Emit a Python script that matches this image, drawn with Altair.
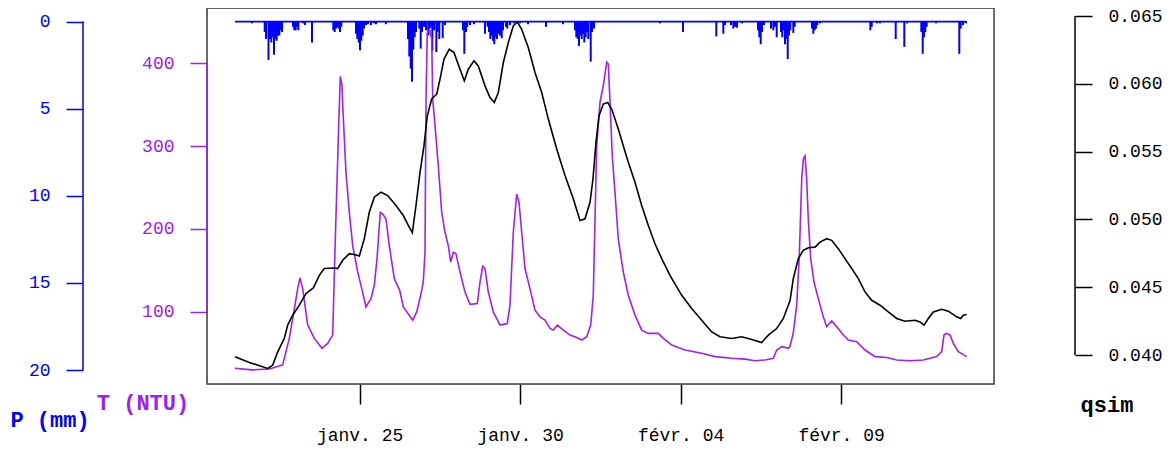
import altair as alt
import pandas as pd

# time axis: days since 20 Jan 00:00
X_TICKS = [5, 10, 15, 20]
X_LABELS = ["janv. 25", "janv. 30", "févr. 04", "févr. 09"]
P_TICKS = [0, 5, 10, 15, 20]
T_TICKS = [100, 200, 300, 400]
Q_TICKS = [0.040, 0.045, 0.050, 0.055, 0.060, 0.065]
AXIS_TITLES = ["P (mm)", "T (NTU)", "qsim"]

# rainfall (hourly, non-zero hours only)
P_DAY = [1.648, 2.044, 2.085, 2.162, 2.209, 2.25, 2.293, 2.333, 2.374, 2.417,
         2.458, 2.498, 2.54, 2.583, 2.925, 2.966, 3.009, 3.05, 3.09, 3.237,
         3.3, 3.517, 4.181, 4.224, 4.265, 4.305, 4.349, 4.389, 4.43, 4.888,
         4.928, 4.972, 5.012, 5.053, 5.097, 5.137, 5.2, 5.26, 5.355, 5.45,
         5.51, 5.82, 6.508, 6.548, 6.592, 6.632, 6.673, 6.717, 6.757, 6.86,
         6.903, 6.944, 7.007, 7.07, 7.14, 7.184, 7.224, 7.265, 7.318, 7.39,
         7.433, 7.483, 7.589, 7.66, 8.221, 8.262, 8.315, 8.355, 8.439, 8.564,
         8.907, 8.99, 9.031, 9.072, 9.115, 9.156, 9.196, 9.24, 9.28, 9.32,
         9.374, 9.427, 9.467, 9.561, 9.601, 9.685, 9.81, 9.997, 10.246, 10.807,
         11.336, 11.71, 11.751, 11.794, 11.835, 11.875, 11.919, 11.959, 12.0, 12.044,
         12.084, 12.125, 12.2, 12.24, 12.302, 14.358, 15.075, 16.112, 16.33, 16.383,
         16.57, 16.642, 16.695, 16.757, 16.913, 17.411, 17.452, 17.495, 17.536, 17.598,
         17.816, 17.888, 17.941, 17.994, 18.128, 18.168, 18.212, 18.252, 18.293, 18.337,
         18.377, 18.417, 18.511, 18.555, 19.093, 19.134, 19.178, 19.218, 19.259, 19.343,
         20.91, 20.953, 21.118, 21.212, 21.701, 21.969, 22.053, 22.499, 22.542, 22.583,
         22.623, 22.667, 22.956, 23.682, 23.726, 23.798, 23.891]
P_MM = [0.1, 0.6, 1.0, 2.2, 1.0, 1.2, 0.9, 1.9, 1.0, 1.1,
        0.8, 0.8, 0.5, 0.6, 0.3, 0.5, 0.5, 0.3, 0.5, 0.1,
        0.2, 1.2, 0.5, 0.6, 0.4, 0.3, 0.4, 0.6, 0.3, 0.7,
        1.0, 1.2, 1.65, 1.1, 0.8, 0.4, 0.2, 0.15, 0.2, 0.1,
        0.15, 0.15, 1.0, 2.0, 2.7, 3.45, 1.6, 0.9, 0.6, 0.4,
        1.55, 0.6, 0.3, 0.5, 0.8, 0.4, 0.3, 1.68, 0.5, 1.75,
        0.6, 1.0, 0.95, 0.2, 0.5, 1.85, 0.6, 0.3, 0.2, 0.15,
        0.7, 0.3, 0.6, 1.0, 0.8, 1.1, 1.3, 0.9, 1.0, 0.7,
        0.8, 0.95, 0.5, 0.3, 0.4, 0.2, 0.1, 0.1, 0.15, 0.3,
        0.15, 0.5, 0.9, 1.0, 1.4, 0.8, 1.0, 0.7, 1.2, 0.9,
        0.6, 1.0, 2.3, 0.6, 0.4, 0.1, 0.6, 0.85, 0.7, 0.2,
        0.2, 0.4, 0.3, 0.35, 0.1, 0.5, 0.9, 1.3, 0.6, 0.2,
        0.4, 0.5, 0.3, 0.9, 0.6, 0.9, 0.5, 1.3, 1.0, 2.15,
        0.8, 0.5, 0.65, 0.3, 0.4, 0.7, 0.5, 0.4, 0.2, 0.1,
        0.5, 0.3, 0.1, 0.1, 1.0, 1.45, 0.1, 0.6, 1.85, 0.9,
        0.6, 0.3, 0.1, 1.85, 0.4, 0.2, 0.1]
P_SPAN = [1.118, 23.913]

# turbidity
T_DAY = [1.118, 1.648, 2.187, 2.604, 2.81, 2.935, 3.072, 3.143, 3.227, 3.383,
         3.589, 3.829, 4.006, 4.162, 4.243, 4.296, 4.349, 4.399, 4.452, 4.474,
         4.576, 4.679, 4.785, 4.941, 5.044, 5.199, 5.355, 5.458, 5.542, 5.645,
         5.72, 5.822, 5.925, 6.081, 6.249, 6.361, 6.654, 6.779, 6.903, 6.984,
         7.037, 7.069, 7.109, 7.193, 7.246, 7.277, 7.349, 7.452, 7.558, 7.66,
         7.763, 7.838, 7.919, 8.003, 8.128, 8.283, 8.439, 8.667, 8.751, 8.835,
         8.907, 9.009, 9.165, 9.374, 9.601, 9.685, 9.788, 9.894, 9.966, 10.05,
         10.153, 10.308, 10.464, 10.62, 10.776, 10.931, 11.034, 11.159, 11.346, 11.554,
         11.763, 11.919, 12.075, 12.2, 12.28, 12.386, 12.458, 12.489, 12.592, 12.698,
         12.748, 12.801, 12.872, 12.956, 13.059, 13.215, 13.371, 13.579, 13.788, 13.994,
         14.305, 14.461, 14.723, 15.137, 15.657, 16.072, 16.592, 17.006, 17.318, 17.629,
         17.888, 17.994, 18.15, 18.355, 18.408, 18.511, 18.617, 18.698, 18.773, 18.822,
         18.875, 18.928, 18.978, 19.053, 19.156, 19.29, 19.445, 19.551, 19.707, 19.863,
         20.069, 20.224, 20.486, 20.745, 21.056, 21.421, 21.732, 22.146, 22.561, 22.978,
         23.134, 23.206, 23.29, 23.393, 23.496, 23.651, 23.913]
T_NTU = [32, 30, 31, 36, 68, 96, 128, 141, 128, 84,
         68, 56, 62, 72, 188, 256, 325, 384, 373, 349,
         268, 220, 180, 148, 132, 106, 116, 132, 164, 220,
         218, 212, 180, 140, 126, 106, 90, 100, 120, 136,
         172, 357, 437, 439, 429, 357, 325, 276, 220, 196,
         180, 160, 172, 170, 148, 124, 109, 110, 136, 155,
         152, 124, 100, 84, 86, 108, 196, 242, 232, 196,
         152, 128, 102, 94, 90, 80, 78, 84, 78, 72,
         69, 66, 70, 84, 120, 300, 337, 353, 373, 401,
         399, 353, 288, 244, 188, 148, 120, 96, 78, 74,
         74, 68, 60, 54, 50, 46, 44, 43, 41, 42,
         44, 54, 58, 56, 58, 75, 108, 168, 260, 284,
         288, 260, 212, 164, 136, 116, 94, 82, 89, 82,
         72, 66, 64, 54, 46, 45, 42, 41, 42, 46,
         52, 72, 74, 72, 62, 52, 46]

# simulated discharge
Q_DAY = [1.118, 1.564, 2.137, 2.293, 2.449, 2.654, 2.76, 2.916, 3.121, 3.33,
         3.558, 3.745, 3.9, 4.212, 4.318, 4.474, 4.679, 4.866, 4.991, 5.146,
         5.302, 5.458, 5.667, 5.875, 6.134, 6.361, 6.517, 6.642, 6.757, 6.882,
         7.006, 7.109, 7.246, 7.402, 7.505, 7.629, 7.794, 7.941, 8.128, 8.262,
         8.386, 8.564, 8.698, 8.907, 9.062, 9.196, 9.321, 9.477, 9.632, 9.788,
         9.913, 10.05, 10.255, 10.464, 10.673, 10.879, 11.14, 11.399, 11.657, 11.866,
         12.022, 12.178, 12.271, 12.364, 12.458, 12.592, 12.729, 12.854, 13.059, 13.215,
         13.371, 13.579, 13.788, 13.994, 14.202, 14.411, 14.67, 15.034, 15.346, 15.657,
         15.969, 16.227, 16.592, 16.903, 17.215, 17.526, 17.732, 17.994, 18.2, 18.355,
         18.408, 18.511, 18.667, 18.822, 18.978, 19.187, 19.343, 19.551, 19.707, 19.913,
         20.121, 20.33, 20.536, 20.745, 20.953, 21.212, 21.47, 21.732, 21.991, 22.302,
         22.458, 22.583, 22.717, 22.872, 23.134, 23.34, 23.601, 23.726, 23.807, 23.913]
Q_SIM = [0.03988, 0.03946, 0.03902, 0.03926, 0.04024, 0.04123, 0.04221, 0.04294, 0.04368, 0.04454,
         0.04495, 0.04588, 0.04638, 0.04642, 0.04638, 0.04699, 0.04748, 0.04740, 0.04730, 0.04858,
         0.05054, 0.05164, 0.05201, 0.05176, 0.05103, 0.05029, 0.04956, 0.04902, 0.05103, 0.05348,
         0.05544, 0.05765, 0.05888, 0.05924, 0.06035, 0.06182, 0.06255, 0.06230, 0.06108, 0.06022,
         0.06108, 0.06169, 0.06132, 0.05985, 0.05899, 0.05863, 0.05936, 0.06157, 0.06304, 0.06426,
         0.06456, 0.06402, 0.06267, 0.06083, 0.05936, 0.05740, 0.05520, 0.05324, 0.05152, 0.04993,
         0.05005, 0.05127, 0.05300, 0.05570, 0.05765, 0.05851, 0.05863, 0.05814, 0.05667, 0.05544,
         0.05421, 0.05274, 0.05103, 0.04956, 0.04821, 0.04711, 0.04588, 0.04441, 0.04343, 0.04257,
         0.04171, 0.04135, 0.04123, 0.04135, 0.04115, 0.04093, 0.04147, 0.04196, 0.04270, 0.04368,
         0.04400, 0.04564, 0.04711, 0.04772, 0.04792, 0.04796, 0.04833, 0.04858, 0.04846, 0.04785,
         0.04711, 0.04638, 0.04564, 0.04466, 0.04404, 0.04368, 0.04318, 0.04270, 0.04250, 0.04257,
         0.04245, 0.04221, 0.04270, 0.04318, 0.04338, 0.04324, 0.04282, 0.04270, 0.04294, 0.04299]

BLUE = "#0000FF"
PURPLE = "#A020F0"
BLACK = "#000000"
FRAME = "#404040"
FONT = "Liberation Mono"
W, H = 787, 376
P_OFF, Q_OFF = 124, 81
TICK = 17

x_scale = alt.Scale(domain=[0.246, 24.763], nice=False, zero=False)
p_scale = alt.Scale(domain=[-0.78, 20.8], reverse=True, nice=False, zero=False)
t_scale = alt.Scale(domain=[13, 466.5], nice=False, zero=False)
q_scale = alt.Scale(domain=[0.03787, 0.06559], nice=False, zero=False)

label_expr = " : ".join(f"datum.value == {d} ? '{l}'" for d, l in zip(X_TICKS, X_LABELS)) + " : ''"
x_axis = alt.Axis(values=X_TICKS, labelExpr=label_expr, title=None, domain=False, grid=False,
                  tickSize=20, tickWidth=1.5, tickColor=BLACK, labelColor=BLACK,
                  labelFont=FONT, labelFontSize=18, labelPadding=22)


def X(field):
    return alt.X(field, type="quantitative", scale=x_scale, axis=x_axis)


def yaxis(orient, offset, values, color, fmt):
    return alt.Axis(orient=orient, offset=offset, values=values, format=fmt, title=None,
                    domain=False, grid=False, tickSize=TICK, tickWidth=1.5, tickColor=color,
                    labelColor=color, labelFont=FONT, labelFontSize=18, labelPadding=16)


p_df = pd.DataFrame({"day": P_DAY, "p": P_MM})
t_df = pd.DataFrame({"day": T_DAY, "t": T_NTU})
q_df = pd.DataFrame({"day": Q_DAY, "q": Q_SIM})
one = pd.DataFrame({"k": [0]})

frame = alt.Chart(one).mark_rect(fillOpacity=0, stroke=FRAME, strokeWidth=1.5).encode(
    x=alt.value(0), x2=alt.value(W), y=alt.value(0), y2=alt.value(H))

p_base = alt.Chart(pd.DataFrame({"d0": [P_SPAN[0]], "d1": [P_SPAN[1]], "z": [0]})).mark_rule(
    color=BLUE, strokeWidth=1.8).encode(
    x=X("d0"), x2="d1", y=alt.Y("z:Q", scale=p_scale, axis=None))

p_bars = alt.Chart(p_df).mark_rule(color=BLUE, strokeWidth=2).encode(
    x=X("day"),
    y=alt.Y("p:Q", scale=p_scale, axis=yaxis("left", P_OFF, P_TICKS, BLUE, "d")),
    y2=alt.Y2Datum(0))

t_line = alt.Chart(t_df).mark_line(color=PURPLE, strokeWidth=1.6).encode(
    x=X("day"),
    y=alt.Y("t:Q", scale=t_scale, axis=yaxis("left", 0, T_TICKS, PURPLE, "d")))

q_line = alt.Chart(q_df).mark_line(color=BLACK, strokeWidth=1.6).encode(
    x=X("day"),
    y=alt.Y("q:Q", scale=q_scale, axis=yaxis("right", Q_OFF, Q_TICKS, BLACK, ".3f")))


def axis_line(ticks, scale, xpos, color):
    df = pd.DataFrame({"lo": [ticks[0]], "hi": [ticks[-1]]})
    return alt.Chart(df).mark_rule(color=color, strokeWidth=1.5).encode(
        x=alt.value(xpos), y=alt.Y("lo:Q", scale=scale, axis=None), y2="hi:Q")


p_axl = axis_line(P_TICKS, p_scale, -P_OFF, BLUE)
t_axl = axis_line(T_TICKS, t_scale, 0, PURPLE)
q_axl = axis_line(Q_TICKS, q_scale, W + Q_OFF, BLACK)


def title(text, color, xpos, ypos):
    return alt.Chart(pd.DataFrame({"label": [text]})).mark_text(
        font=FONT, fontSize=22, fontWeight="bold", color=color, align="center", baseline="middle"
    ).encode(x=alt.value(xpos), y=alt.value(ypos), text="label:N")


titles = [title(AXIS_TITLES[0], BLUE, -157, 412),
          title(AXIS_TITLES[1], PURPLE, -64, 395),
          title(AXIS_TITLES[2], BLACK, 900, 397)]

chart = alt.layer(frame, p_base, p_bars, t_line, q_line, p_axl, t_axl, q_axl, *titles).resolve_scale(
    y="independent").properties(
    width=W, height=H,
    autosize=alt.AutoSizeParams(type="none"),
    padding={"left": 199, "top": 0, "right": 172, "bottom": 62},
).configure_view(strokeWidth=0).configure(background="white")

chart.save("out.html", embed_options={"renderer": "svg", "actions": False})
